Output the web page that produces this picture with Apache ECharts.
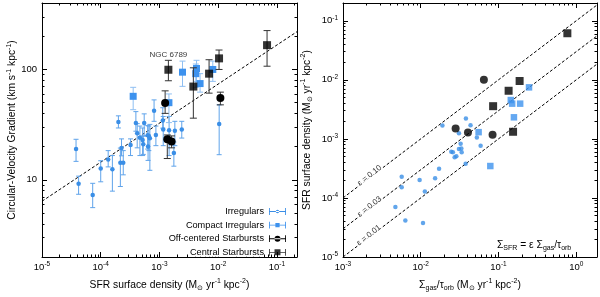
<!DOCTYPE html>
<html><head><meta charset="utf-8">
<script src="https://cdn.jsdelivr.net/npm/echarts@6/dist/echarts.min.js"></script>
<style>html,body{margin:0;padding:0;background:#fff}#c{width:600px;height:297px}</style>
</head><body><div id="c"></div>
<script>
// ---------- LEFT PANEL: [SFR surface density, gradient, gradient low, gradient high]
const irrL = [
 [3.8e-5,19,14.7,23.3],[4.2e-5,9.2,7.4,10.8],[7.3e-5,7.3,5.6,9.3],[1.0e-4,12.7,9.6,14.9],
 [1.34e-4,15.3,13.1,18.4],[1.58e-4,12.5,7.9,16.6],[2.0e-4,33.5,29.5,38],[2.26e-4,19.4,16.5,23.5],
 [2.16e-4,14.3,8.7,19.4],[2.42e-4,14.3,11.1,18.4],[3.22e-4,20.7,16.6,23.5],[3.97e-4,32.7,27.6,41.5],
 [4.18e-4,26.4,19.5,32.3],[4.65e-4,24.1,16.6,30.7],[5.17e-4,23.0,16.6,29.5],[5.3e-4,21,17,25],
 [5.5e-4,32.7,24.9,39.6],[6.3e-4,25.3,19,31],[6.6e-4,24.9,18.4,30.7],[6.4e-4,20,15,25],
 [6.87e-4,23.8,12.2,31.8],[8.1e-4,42.3,33.9,53],[8.7e-4,25.5,20.4,30.7],[1.14e-3,34.5,29.4,45],
 [1.16e-3,28.6,20.4,37.5],[1.46e-3,28.2,16.6,37.5],[1.76e-3,17.5,13.3,22],[1.83e-3,27.8,20.4,33.9],
 [2.4e-3,28.6,23.9,33.9],[1.04e-2,32,16.9,47.8]
];
const cmpL = [
 [3.57e-4,57.1,43.2,68.9],[1.45e-3,50,33,60],[2.47e-3,94.5,70.3,119],[4.16e-3,91.6,68.9,112],
 [4.28e-3,102,78,121],[4.92e-3,74.5,62.3,91.6],[8.1e-3,100,78,119]
];
const offL = [
 [1.25e-3,49.8,40,64],[1.36e-3,23.3,15.6,25.5],[1.61e-3,22.2,19.5,25],[1.09e-2,55,47.8,62.3]
];
const cenL = [
 [1.42e-3,99.4,79,121],[3.78e-3,70,36.2,103.5],[7.0e-3,91.6,61,122.5],
 [1.035e-2,126,100,150],[6.8e-2,166,107,225]
];
const cenLabelIndex = 0;
const cenLabelText = 'NGC 6789';
const fitLineX = [1e-5, 0.22];
const fitLineY = [6.4, 220];

// ---------- RIGHT PANEL: [Σgas/τorb, SFR surface density]
const irrR = [
 [0.0190,1.68e-3],[0.0381,2.21e-3],[0.0437,1.71e-3],[0.0310,1.24e-3],[0.0527,1.06e-3],
 [0.0326,8.24e-4],[0.0589,7.64e-4],[0.0310,6.73e-4],[0.0333,6.89e-4],[0.0247,6.08e-4],
 [0.0259,5.92e-4],[0.0336,5.92e-4],[0.0287,5.08e-4],[0.0273,4.9e-4],[0.0378,3.81e-4],
 [0.0172,3.13e-4],[5.69e-3,2.29e-4],[5.69e-3,1.51e-4],[9.68e-3,2.02e-4],[0.0153,2.15e-4],
 [0.0113,1.29e-4],[4.72e-3,7.05e-5],[6.34e-3,4.14e-5],[0.0107,3.77e-5]
];
const cmpR = [[0.247,7.46e-3],[0.144,4.55e-3],[0.150,3.95e-3],[0.190,3.95e-3],[0.158,2.32e-3],[0.0555,1.3e-3],[0.0785,3.47e-4]];
const offR = [[0.0649,1.0e-2],[0.0281,1.5e-3],[0.0405,1.28e-3],[0.0839,1.18e-3]];
const cenR = [[0.769,0.0615],[0.187,9.55e-3],[0.135,6.53e-3],[0.0853,3.58e-3],[0.154,1.32e-3]];
const epsLineX = [1e-3, 1.85];
const eps10Y = [1e-4, 0.185];
const eps03Y = [3e-5, 0.0555];
const eps01Y = [1e-5, 0.0185];
const epsLabels = ['ε = 0.10', 'ε = 0.03', 'ε = 0.01'];
const epsLabelX = [2.2e-3, 2.2e-3, 2.15e-3];
const epsLabelY = [2.4e-4, 7.1e-5, 2.33e-5];

// ---------- ticks
const leftXTicks = [1e-5, 1e-4, 1e-3, 1e-2, 1e-1];
const leftYTicks = [10, 100];
const rightXTicks = [1e-3, 1e-2, 1e-1, 1];
const rightYTicks = [1e-5, 1e-4, 1e-3, 1e-2, 1e-1];
const legendNames = ['Irregulars', 'Compact Irregulars', 'Off-centered Starbursts', 'Central Starbursts'];

const FONT = 'Liberation Sans';
const BLUE = '#3a8ee6';
const BLUE2 = '#3d92ee';

function minors(min, max) {
  const out = [];
  for (let d = Math.floor(Math.log10(min)); d <= Math.ceil(Math.log10(max)); d++) {
    for (let k = 1; k <= 9; k++) {
      const v = k * Math.pow(10, d);
      if (v >= min * 0.999 && v <= max * 1.001) out.push(v);
    }
  }
  return out;
}
const richTick = {
  b: {fontSize: 9.5, lineHeight: 13, fontFamily: FONT, color: '#000'},
  s: {fontSize: 6.5, lineHeight: 6.5, verticalAlign: 'top', fontFamily: FONT, color: '#000'}
};
const richName = {
  b: {fontSize: 10.3, lineHeight: 14, fontFamily: FONT, color: '#000'},
  s: {fontSize: 7, lineHeight: 7, verticalAlign: 'top', fontFamily: FONT, color: '#000'},
  u: {fontSize: 7, lineHeight: 7, verticalAlign: 'bottom', fontFamily: FONT, color: '#000'}
};
function expFmt(v) {
  const e = Math.round(Math.log10(v));
  return '{b|10}{s|' + e + '}';
}
function plainFmt(v) { return '{b|' + Math.round(v) + '}'; }

function axisSet(dim, grid, min, max, majors, fmt, name, nameGap) {
  const isX = dim === 'x';
  const pos = isX ? ['bottom', 'top'] : ['left', 'right'];
  const mins = minors(min, max);
  const base = {type: 'log', logBase: 10, gridIndex: grid, min: min, max: max, splitLine: {show: false}};
  const line = {show: true, onZero: false, lineStyle: {color: '#000', width: 1}};
  return [
    Object.assign({}, base, {position: pos[0], axisLine: line,
      axisTick: {show: true, inside: true, length: 5, customValues: majors, lineStyle: {color: '#000'}},
      axisLabel: {show: true, customValues: majors, formatter: fmt, rich: richTick, margin: isX ? 4 : 5},
      name: name, nameLocation: 'middle', nameGap: nameGap,
      nameTextStyle: {rich: richName}}),
    Object.assign({}, base, {position: pos[0], axisLine: {show: false, onZero: false},
      axisTick: {show: true, inside: true, length: 2.5, customValues: mins, lineStyle: {color: '#000'}},
      axisLabel: {show: false}}),
    Object.assign({}, base, {position: pos[1], axisLine: line,
      axisTick: {show: true, inside: true, length: 5, customValues: majors, lineStyle: {color: '#000'}},
      axisLabel: {show: false}}),
    Object.assign({}, base, {position: pos[1], axisLine: {show: false, onZero: false},
      axisTick: {show: true, inside: true, length: 2.5, customValues: mins, lineStyle: {color: '#000'}},
      axisLabel: {show: false}})
  ];
}

const xAxes = [].concat(
  axisSet('x', 0, 1e-5, 0.22, leftXTicks, expFmt, '{b|SFR surface density (M}{u|⊙}{b| yr}{s|-1}{b| kpc}{s|-2}{b|)}', 21),
  axisSet('x', 1, 1e-3, 1.85, rightXTicks, expFmt, '{b|Σ}{u|gas}{b|/τ}{u|orb}{b| (M}{u|⊙}{b| yr}{s|-1}{b| kpc}{s|-2}{b|)}', 21)
);
const yAxes = [].concat(
  axisSet('y', 0, 2, 400, leftYTicks, plainFmt, '{b|Circular-Velocity Gradient (km s}{s|-1}{b| kpc}{s|-1}{b|)}', 20),
  axisSet('y', 1, 1e-5, 0.2, rightYTicks, expFmt, '{b|SFR surface density (M}{u|⊙}{b| yr}{s|-1}{b| kpc}{s|-2}{b|)}', 29)
);

function errSeries(data, xi, yi, color, cap, z) {
  return {
    type: 'custom', xAxisIndex: xi, yAxisIndex: yi, z: z, silent: true,
    data: data, encode: {x: 0, y: [2, 3]},
    renderItem: function (params, api) {
      const x = api.value(0), lo = api.value(2), hi = api.value(3);
      const p1 = api.coord([x, hi]), p2 = api.coord([x, lo]);
      const st = {stroke: color, lineWidth: 1, fill: null};
      return {type: 'group', children: [
        {type: 'line', shape: {x1: p1[0], y1: p1[1], x2: p2[0], y2: p2[1]}, style: st},
        {type: 'line', shape: {x1: p1[0] - cap, y1: p1[1], x2: p1[0] + cap, y2: p1[1]}, style: st},
        {type: 'line', shape: {x1: p2[0] - cap, y1: p2[1], x2: p2[0] + cap, y2: p2[1]}, style: st}
      ]};
    }
  };
}
function sc(name, data, xi, yi, symbol, size, color, z) {
  return {type: 'scatter', name: name, xAxisIndex: xi, yAxisIndex: yi, symbol: symbol, symbolSize: size,
    itemStyle: {color: color, opacity: 1}, z: z, silent: true,
    data: data.map(function (d) { return [d[0], d[1]]; })};
}

const cenLData = cenL.map(function (d, i) {
  const item = {value: [d[0], d[1]]};
  if (i === cenLabelIndex) item.label = {show: true, formatter: cenLabelText, position: 'top', distance: 7,
    fontSize: 8, fontFamily: FONT, color: '#000'};
  return item;
});

const epsData = epsLabels.map(function (t, i) { return {value: [epsLabelX[i], epsLabelY[i]], name: t}; });
const dash = {color: '#000', width: 1, type: [3, 2]};

const series = [
  // left
  {type: 'line', xAxisIndex: 0, yAxisIndex: 0, data: fitLineX.map(function (x, i) { return [x, fitLineY[i]]; }),
    showSymbol: false, symbol: 'none', lineStyle: dash, z: 0, silent: true},
  errSeries(irrL, 0, 0, '#5fa3ea', 2.5, 1),
  sc('Irregulars', irrL, 0, 0, 'circle', 4.5, BLUE, 2),
  errSeries(cmpL, 0, 0, '#8fbff2', 3, 3),
  sc('Compact Irregulars', cmpL, 0, 0, 'rect', 7, BLUE2, 4),
  errSeries(offL, 0, 0, '#333', 3.5, 5),
  sc('Off-centered Starbursts', offL, 0, 0, 'circle', 8, '#000', 6),
  errSeries(cenL, 0, 0, '#333', 3.5, 7),
  {type: 'scatter', name: 'Central Starbursts', xAxisIndex: 0, yAxisIndex: 0, symbol: 'rect', symbolSize: 8,
    itemStyle: {color: '#000'}, z: 8, silent: true, data: cenLData},
  // right
  {type: 'line', xAxisIndex: 4, yAxisIndex: 4, data: epsLineX.map(function (x, i) { return [x, eps10Y[i]]; }),
    showSymbol: false, symbol: 'none', lineStyle: dash, z: 0, silent: true},
  {type: 'line', xAxisIndex: 4, yAxisIndex: 4, data: epsLineX.map(function (x, i) { return [x, eps03Y[i]]; }),
    showSymbol: false, symbol: 'none', lineStyle: dash, z: 0, silent: true},
  {type: 'line', xAxisIndex: 4, yAxisIndex: 4, data: epsLineX.map(function (x, i) { return [x, eps01Y[i]]; }),
    showSymbol: false, symbol: 'none', lineStyle: dash, z: 0, silent: true},
  {type: 'scatter', xAxisIndex: 4, yAxisIndex: 4, symbolSize: 0, silent: true, z: 1, data: epsData,
    label: {show: true, position: 'inside', rotate: 38, formatter: '{b}', fontSize: 8, fontFamily: FONT, color: '#000',
      backgroundColor: '#fff', padding: [0, 1]}},
  {type: 'scatter', xAxisIndex: 4, yAxisIndex: 4, symbol: 'circle', symbolSize: 4.5, itemStyle: {color: BLUE}, z: 2, silent: true, data: irrR},
  {type: 'scatter', xAxisIndex: 4, yAxisIndex: 4, symbol: 'rect', symbolSize: 6.5, itemStyle: {color: BLUE2}, z: 4, silent: true, data: cmpR},
  {type: 'scatter', xAxisIndex: 4, yAxisIndex: 4, symbol: 'circle', symbolSize: 8, itemStyle: {color: '#000'}, z: 6, silent: true, data: offR},
  {type: 'scatter', xAxisIndex: 4, yAxisIndex: 4, symbol: 'rect', symbolSize: 8, itemStyle: {color: '#000'}, z: 8, silent: true, data: cenR}
];

const iconIrr = 'path://M0,0h1v8h-1zM19,0h1v8h-1zM0,3.5h20v1h-20zM8,4a2,2 0 1,0 4,0a2,2 0 1,0 -4,0z';
const iconCmp = 'path://M0,0h1v8h-1zM19,0h1v8h-1zM0,3.5h20v1h-20zM7.5,1.5h5v5h-5z';
const iconOff = 'path://M0,0h1v8h-1zM19,0h1v8h-1zM0,3.5h20v1h-20zM6.5,4a3.5,3.5 0 1,0 7,0a3.5,3.5 0 1,0 -7,0z';
const iconCen = 'path://M0,0h1v8h-1zM19,0h1v8h-1zM0,3.5h20v1h-20zM6.5,0.5h7v7h-7z';
const icons = [iconIrr, iconCmp, iconOff, iconCen];

const chart = echarts.init(document.getElementById('c'), null, {renderer: 'canvas'});
chart.setOption({
  animation: false,
  backgroundColor: '#fff',
  textStyle: {fontFamily: FONT},
  grid: [
    {left: 42, right: 303, top: 3, bottom: 33, containLabel: false},
    {left: 343, right: 3, top: 3, bottom: 33, containLabel: false}
  ],
  xAxis: xAxes,
  yAxis: yAxes,
  legend: {
    orient: 'vertical', align: 'right', right: 314, top: 207, itemWidth: 17, itemHeight: 7, itemGap: 4.6,
    padding: 0, z: 50,
    textStyle: {fontSize: 9.2, fontFamily: FONT, color: '#000', backgroundColor: '#fff'},
    selectedMode: false,
    data: legendNames.map(function (n, i) { return {name: n, icon: icons[i]}; })
  },
  graphic: [
    {type: 'text', left: 497, top: 240, silent: true,
      style: {text: '{b|Σ}{u|SFR}{b| = ε Σ}{u|gas}{b|/τ}{u|orb}', rich: richName}}
  ],
  series: series
});
</script>
</body></html>
